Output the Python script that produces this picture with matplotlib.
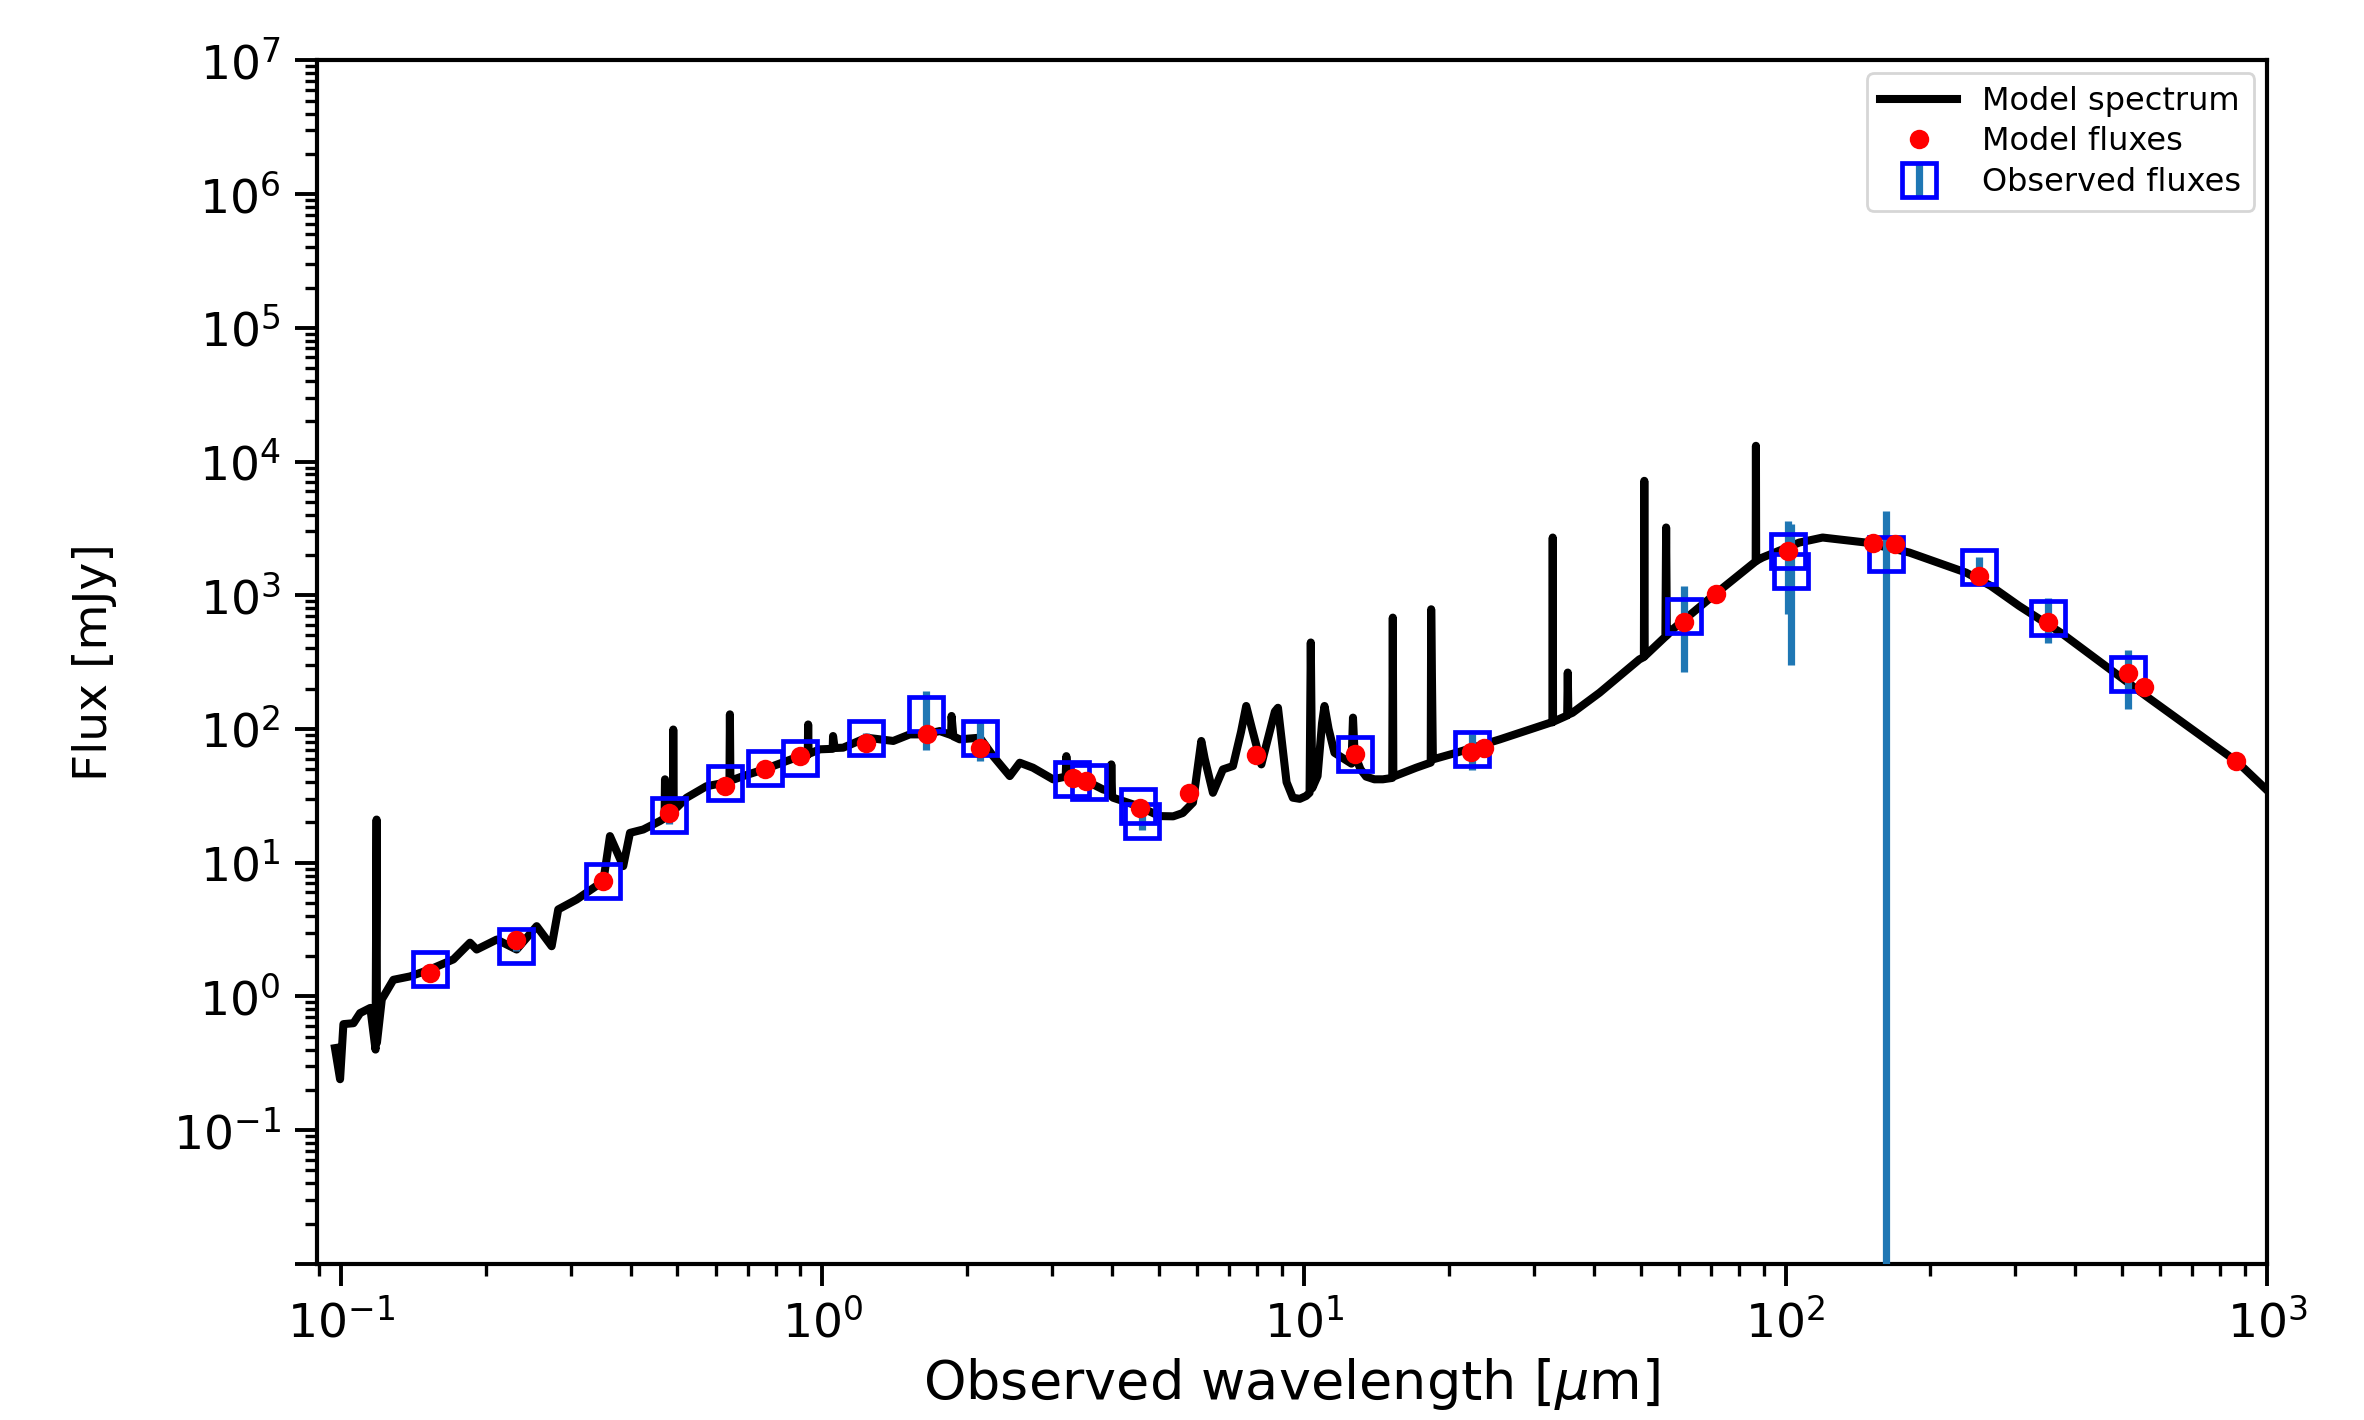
import numpy as np
import matplotlib
matplotlib.use("Agg")
import matplotlib.pyplot as plt

# model spectrum (wavelength in micron, flux in mJy)
spec_wave = [0.0972, 0.0996, 0.1012, 0.1062, 0.1096, 0.1151, 0.1180, 0.1186, 0.1188,
             0.1216, 0.1285, 0.1392, 0.1531, 0.1712, 0.1854, 0.1914, 0.2107, 0.2317,
             0.2550, 0.2739, 0.2827, 0.3087, 0.3507, 0.3620, 0.3857, 0.3984, 0.4245,
             0.4600, 0.4700, 0.4710, 0.4720, 0.4824, 0.4890, 0.4900, 0.4912, 0.5224,
             0.5743, 0.6270, 0.6410, 0.6424, 0.6440, 0.6844, 0.7555, 0.8978, 0.9320,
             0.9340, 0.9360, 0.9880, 1.050, 1.052, 1.060, 1.104, 1.234, 1.403, 1.518,
             1.632, 1.752, 1.850, 1.854, 1.870, 1.928, 2.123, 2.262, 2.449, 2.569,
             2.736, 3.012, 3.200, 3.210, 3.230, 3.262, 3.530, 3.824, 3.970, 3.980,
             3.995, 4.012, 4.523, 5.01, 5.35, 5.60, 5.88, 6.05, 6.12, 6.22, 6.47,
             6.785, 7.12, 7.40, 7.586, 7.80, 8.155, 8.41, 8.70, 8.83, 9.00, 9.20,
             9.48, 9.80, 10.10, 10.27, 10.33, 10.40, 10.67, 10.90, 11.03, 11.25,
             11.57, 12.55, 12.64, 12.74, 13.10, 13.46, 14.00, 14.58, 15.25, 15.29,
             15.33, 17.1, 18.33, 18.37, 18.52, 20.7, 25.5, 32.4, 32.8, 32.85, 32.9,
             35.2, 35.3, 35.4, 36.1, 41.1, 49.7, 50.8, 50.9, 51.0, 56.3, 56.5, 56.7,
             58.3, 70.6, 86.7, 86.8, 86.9, 89.6, 106.8, 119.4, 146.9, 180.7, 237.0,
             266.7, 305.5, 374.8, 561.0, 869.0, 1021.0]
spec_flux = [0.41, 0.24, 0.62, 0.63, 0.75, 0.82, 0.40, 21.0, 0.45,
             0.95, 1.33, 1.41, 1.59, 1.89, 2.52, 2.24, 2.66, 2.24,
             3.35, 2.37, 4.47, 5.30, 7.27, 15.8, 9.42, 16.7, 17.7,
             20.5, 21.5, 42.0, 22.0, 22.9, 23.5, 99.0, 24.5, 30.6,
             37.3, 39.6, 40.5, 128.6, 41.0, 44.4, 49.8, 62.6, 64.0,
             108.0, 65.0, 70.4, 71.0, 88.5, 72.0, 72.4, 86.0, 81.3, 91.0,
             91.0, 96.4, 90.0, 125.0, 88.0, 83.6, 86.0, 62.6, 44.4, 55.9,
             51.3, 42.0, 44.0, 62.6, 45.0, 42.0, 40.8, 35.3, 34.0, 54.3,
             31.0, 30.6, 26.5, 22.3, 22.2, 23.5, 28.1, 60.0, 81.3, 60.0, 33.3,
             49.8, 52.8, 95.0, 148.5, 100.0, 54.3, 83.6, 135.0, 144.0, 80.0, 40.0,
             30.6, 30.0, 31.5, 33.3, 443.0, 36.0, 44.4, 110.0, 148.5, 100.0,
             66.3, 55.0, 121.5, 64.5, 50.0, 44.0, 42.0, 42.0, 43.0, 680.0,
             44.0, 51.3, 56.0, 785.0, 59.2, 66.3, 83.5, 111.0, 112.0, 2700.0, 113.0,
             126.0, 264.0, 128.0, 132.0, 186.6, 331.0, 345.0, 7170.0, 350.0, 490.0, 3210.0, 500.0,
             556.0, 986.0, 1790.0, 13100.0, 1805.0, 1915.0, 2477.0, 2700.0, 2477.0, 2086.0, 1477.0,
             1175.0, 832.0, 518.0, 175.8, 56.3, 32.4]

# model fluxes in the filters
mod_wave = [0.153, 0.231, 0.351, 0.481, 0.628, 0.758, 0.90, 1.23, 1.65, 2.12, 3.31,
            3.53, 4.56, 5.77, 7.96, 12.74, 22.2, 23.7, 61.5, 71.6, 101, 152, 169,
            252, 351, 515, 555, 863]
mod_flux = [1.5, 2.66, 7.3, 23.6, 37.3, 49.8, 62.6, 78.7, 91, 72.4, 43.2,
            40.7, 25.7, 33.3, 64, 64.5, 67.2, 72.4, 630, 1016, 2140, 2450, 2400,
            1400, 630, 264, 205, 58]

# observed fluxes and errors
obs_wave = [0.153, 0.231, 0.351, 0.481, 0.628, 0.758, 0.90, 1.23, 1.64, 2.12, 3.29,
            3.58, 4.52, 4.60, 12.74, 22.3, 61.5, 101, 102.6, 162, 252, 351, 515]
obs_flux = [1.59, 2.37, 7.27, 22.9, 39.6, 51.3, 60.6, 86, 130, 86, 42,
            40.1, 26.5, 20.5, 64.5, 70.3, 698, 2140, 1520, 2030, 1620, 681, 256]
obs_err_lo = [0.15, 0.2, 0.5, 3.5, 2, 3, 3, 8, 60, 28, 3,
              3, 2.5, 3, 5, 21, 430, 1420, 1220, 2230, 300, 245, 115]
obs_err_hi = [0.15, 0.2, 0.5, 3.5, 2, 3, 3, 8, 62, 28, 3,
              3, 2.5, 3, 5, 21, 477, 1450, 1880, 2230, 300, 275, 130]

y_ticks = [1e-2, 1e-1, 1e0, 1e1, 1e2, 1e3, 1e4, 1e5, 1e6, 1e7]
y_ticklabels = ['', r'$10^{-1}$', r'$10^{0}$', r'$10^{1}$', r'$10^{2}$', r'$10^{3}$',
                r'$10^{4}$', r'$10^{5}$', r'$10^{6}$', r'$10^{7}$']

fig = plt.figure(figsize=(11.82, 7.1), dpi=200)
ax = fig.add_axes([0.134, 0.110, 0.825, 0.8475])

ax.plot(spec_wave, spec_flux, color='k', lw=2.9, label='Model spectrum', zorder=2)
ax.errorbar(obs_wave, obs_flux, yerr=[obs_err_lo, obs_err_hi], fmt='s', mfc='none',
            mec='b', mew=1.7, ms=12, ecolor='C0', elinewidth=2.6,
            label='Observed fluxes', zorder=3)
ax.plot(mod_wave, mod_flux, 'o', color='red', ms=7, mec='none',
        label='Model fluxes', zorder=4)

ax.set_xscale('log')
ax.set_yscale('log')
ax.set_xlim(0.0891, 1000)
ax.set_ylim(1e-2, 1e7)
ax.set_yticks(y_ticks)
ax.set_yticklabels(y_ticklabels)

ax.tick_params(which='major', length=8, width=1.4, labelsize=17, pad=5)
ax.tick_params(which='minor', length=4.3, width=1.2)
for s in ax.spines.values():
    s.set_linewidth(1.5)

ax.set_xlabel(r'Observed wavelength [$\mu$m]', fontsize=19.5, labelpad=3)
ax.set_ylabel('Flux [mJy]', fontsize=17, labelpad=20)

ax.legend(loc='upper right', fontsize=11.5, handlelength=2.4, labelspacing=0.3,
          borderaxespad=0.4)

fig.savefig('out.png', dpi=200)
